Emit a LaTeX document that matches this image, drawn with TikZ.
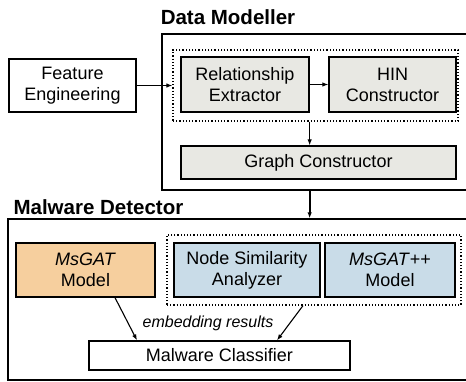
\documentclass[tikz,border=0pt]{standalone}
\usepackage{fontspec}
\setmainfont{Liberation Sans}
\usetikzlibrary{fit,arrows.meta}
\definecolor{boxgray}{HTML}{E8E8E3}
\definecolor{boxorange}{HTML}{F6CF9E}
\definecolor{boxblue}{HTML}{C9DCE8}
\begin{document}
\begin{tikzpicture}[
    x=1pt,y=-1pt,
    >={Latex[length=6pt,width=4.5pt]},
    block/.style={draw,line width=1.3pt,align=center,inner sep=0pt,
      font=\fontsize{18}{21}\selectfont},
    group/.style={draw,line width=1.3pt,inner sep=0pt},
    dots/.style={draw,line width=1.2pt,dotted,inner sep=0pt},
    title/.style={font=\fontsize{20.5}{24}\selectfont\bfseries},
    link/.style={->,line width=1.1pt}
  ]
  \useasboundingbox (0,0) rectangle (466,381);

  % data modeller
  \node[group,minimum width=308,minimum height=156] (dm) at (316,112) {};
  \node[title] (dmtitle) at (228,17) {Data Modeller};
  \node[block,minimum width=127,minimum height=53] (fe) at (72.5,85.5) {Feature\\Engineering};
  \node[block,fill=boxgray,minimum width=128,minimum height=55] (re) at (245,84.5) {Relationship\\Extractor};
  \node[block,fill=boxgray,minimum width=127,minimum height=55] (hin) at (392.5,84.5) {HIN\\Constructor};
  \node[dots,minimum width=285,minimum height=71] (dm box) at (315.5,85.5) {};
  \node[block,fill=boxgray,minimum width=275,minimum height=33] (gc) at (318.5,162.5) {Graph Constructor};

  \draw[link] (fe.east) -- (fe.east -| dm box.west);
  \draw[link] (re.east) -- (hin.west);
  \draw[link] (re.east |- dm box.south) -- (re.east |- gc.north);

  % malware detector
  \node[group,minimum width=462,minimum height=161] (md) at (239,299.5) {};
  \node[title,anchor=west] (mdtitle) at (10,207) {Malware Detector};
  \node[block,fill=boxorange,minimum width=139,minimum height=54] (msgat) at (85.5,270) {\textit{MsGAT}\\Model};
  \node[block,fill=boxblue,minimum width=146,minimum height=54] (nsa) at (247,270) {Node Similarity\\Analyzer};
  \node[block,fill=boxblue,minimum width=130,minimum height=54] (msgatpp) at (390,270) {\textit{MsGAT}++\\Model};
  \node[dots,minimum width=294,minimum height=70] (md box) at (314,270) {};
  \node[block,minimum width=261,minimum height=29] (mc) at (219.5,355.5) {Malware Classifier};
  \node[font=\fontsize{16}{19}\selectfont\itshape] (emb) at (208,323) {embedding results};

  \draw[link,line width=1.8pt] (re.east |- dm.south) -- (re.east |- md.north);
  \draw[link] ([xshift=29.5pt]msgat.south) -- ([xshift=-82.5pt]mc.north);
  \draw[link] ([xshift=-11pt]md box.south) -- ([xshift=57.5pt]mc.north);
\end{tikzpicture}
\end{document}
